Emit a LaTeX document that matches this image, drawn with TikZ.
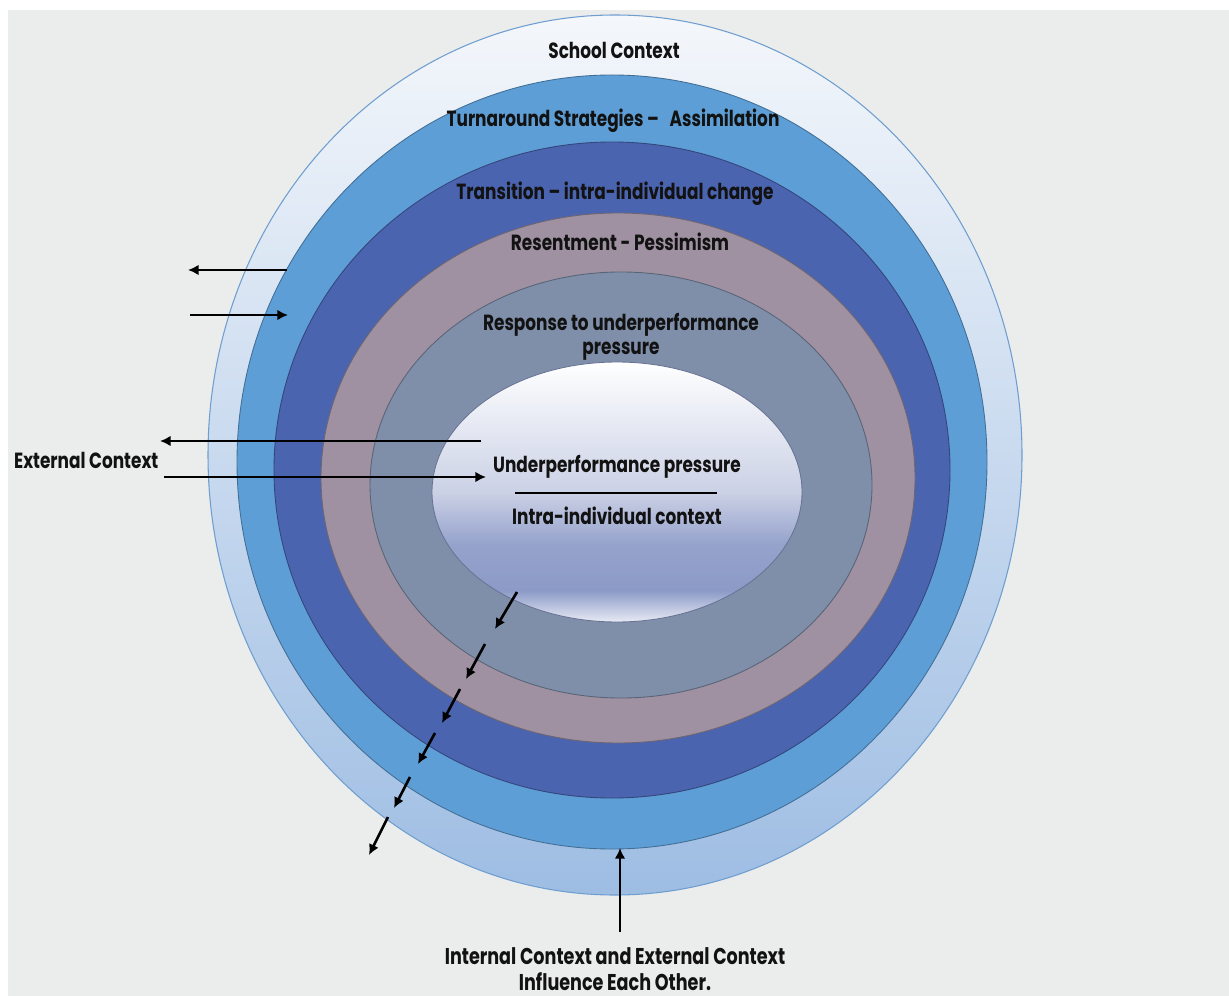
\documentclass[tikz,border=0pt]{standalone}
\usepackage{graphicx}
\usepackage{fontspec}
\setmainfont{Poppins}
\usepackage{tikz}
\usetikzlibrary{arrows.meta}
\definecolor{bggrey}{HTML}{EBECEC}
\definecolor{schoolpale}{HTML}{F4F7FB}
\definecolor{schoolblue}{HTML}{9EBDE3}
\definecolor{schoolline}{HTML}{6E9ED0}
\definecolor{turnblue}{HTML}{5E9ED6}
\definecolor{transblue}{HTML}{4A64B0}
\definecolor{resentmauve}{HTML}{9F91A1}
\definecolor{responseslate}{HTML}{7F8FAA}
\definecolor{innerlav}{HTML}{8C9AC7}
\pgfdeclareverticalshading{innershade}{100bp}{color(0bp)=(innerlav!20!white);color(25bp)=(innerlav!20!white);color(31bp)=(innerlav);color(40bp)=(innerlav!92!white);color(50bp)=(innerlav!45!white);color(75bp)=(white);color(100bp)=(white)}
\newcommand{\sq}[1]{\scalebox{0.77}[1]{#1}}

\begin{document}
\begin{tikzpicture}[x=0.02cm, y=-0.02cm,
  ring/.style={draw=#1!70!black, line width=0.5pt, fill=#1},
  lbl/.style={font=\bfseries\fontsize{12.5}{14}\selectfont, text=black!93, inner sep=1pt, align=center},
  arr/.style={line width=1.5pt, -{Latex[length=6pt,width=6pt]}}]
\useasboundingbox (0,0) rectangle (1229,996);
\fill[white] (0,0) rectangle (1229,996);
\fill[bggrey] (8,10) rectangle (1229,996);
% rings, outside in
\draw[schoolline, line width=0.6pt, top color=schoolpale, bottom color=schoolblue] (615,455) ellipse [x radius=407, y radius=440];
\draw[ring=turnblue] (612,462) ellipse [x radius=375, y radius=387];
\draw[ring=transblue] (612,470) ellipse [x radius=338, y radius=328];
\draw[ring=resentmauve] (618,478) ellipse [x radius=297, y radius=265];
\draw[ring=responseslate] (621,485) ellipse [x radius=251, y radius=213];
\draw[innerlav!75!black, line width=0.5pt, shading=innershade] (617,492) ellipse [x radius=185, y radius=130];
% labels
\node[lbl] (school) at (614,50) {\sq{School Context}};
\node[lbl] (turn) at (613,121) {\sq{Turnaround Strategies –\ \ \ Assimilation}};
\node[lbl] (trans) at (615,194) {\sq{Transition – intra-individual change}};
\node[lbl] (resent) at (620,242) {\sq{Resentment - Pessimism}};
\node[lbl] (resp) at (621,337) {\sq{Response to underperformance}\\\sq{pressure}};
\node[lbl] (under) at (617,467) {\sq{Underperformance pressure}};
\node[lbl] (intra) at (617,516) {\sq{Intra-individual context}};
\node[lbl, anchor=west] (ext) at (12,460) {\sq{External Context}};
\node[lbl, font=\bfseries\fontsize{13}{15}\selectfont] (infl) at (615,969) {\sq{Internal Context and External Context}\\\sq{Influence Each Other.}};
\coordinate (barl) at (515,493);
\coordinate (barr) at (717,493);
\draw[line width=0.6pt] (barl) -- (barr);
% arrows across the rings
\coordinate (o1) at (287,270);
\coordinate (o2) at (188,270);
\coordinate (i1) at (190,315);
\coordinate (i2) at (288,315);
\coordinate (o3) at (481,441);
\coordinate (o4) at (160,441);
\coordinate (i3) at (164,477);
\coordinate (i4) at (486,477);
\draw[arr] (o1) -- (o2);
\draw[arr] (i1) -- (i2);
\draw[arr] (o3) -- (o4);
\draw[arr] (i3) -- (i4);
\coordinate (d1) at (517,592);
\coordinate (e1) at (495,629);
\coordinate (d2) at (485,644);
\coordinate (e2) at (466,679);
\coordinate (d3) at (460,689);
\coordinate (e3) at (442,723);
\coordinate (d4) at (435,733);
\coordinate (e4) at (418,764);
\coordinate (d5) at (410,777);
\coordinate (e5) at (394,808);
\coordinate (d6) at (388,817);
\coordinate (e6) at (369,855);
\draw[arr] (d1) -- (e1);
\draw[arr] (d2) -- (e2);
\draw[arr] (d3) -- (e3);
\draw[arr] (d4) -- (e4);
\draw[arr] (d5) -- (e5);
\draw[arr] (d6) -- (e6);
\coordinate (u1) at (620,932);
\coordinate (u2) at (620,848);
\draw[arr] (u1) -- (u2);
\end{tikzpicture}
\end{document}
